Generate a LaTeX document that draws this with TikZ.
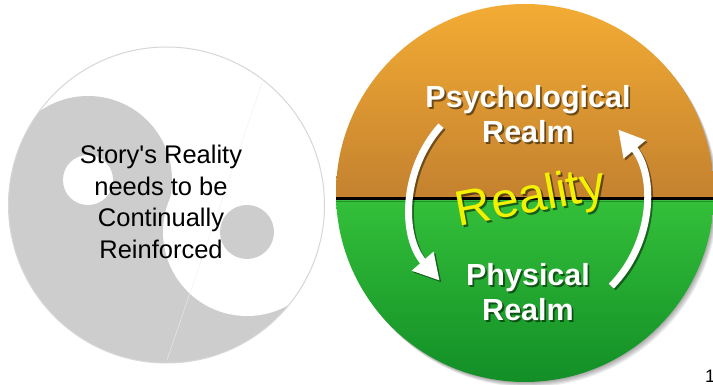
\documentclass[tikz,border=0pt]{standalone}
\usepackage{fontspec}
\newfontfamily\arialfont{Liberation Sans}
\usetikzlibrary{arrows.meta,calc}
\definecolor{yygray}{RGB}{205,205,205}
\definecolor{rimgray}{RGB}{215,215,215}
\definecolor{faintline}{RGB}{238,238,238}
\definecolor{orTop}{RGB}{243,172,52}
\definecolor{orBot}{RGB}{196,129,47}
\definecolor{grTop}{RGB}{52,192,58}
\definecolor{grBot}{RGB}{18,142,38}
\definecolor{realityYellow}{RGB}{242,242,0}
\begin{document}
\begin{tikzpicture}[x=1pt,y=1pt,
  storytext/.style={font=\arialfont\fontsize{25.5}{31.7}\selectfont, align=center, inner sep=0pt},
  realmtext/.style={text=white, font=\arialfont\bfseries\fontsize{30.5}{35}\selectfont, align=center, inner sep=0pt},
  realitytext/.style={text=realityYellow, font=\arialfont\fontsize{49.5}{52}\selectfont, rotate=10.5, inner sep=0pt},
  shadowtext/.style={text=black, text opacity=0.5},
  looparrow/.style={line width=7pt, -{Triangle[width=27pt,length=26pt]}},
  pagetext/.style={font=\arialfont\fontsize{18}{20}\selectfont, anchor=base west, inner sep=0pt}
]
\clip (0,0) rectangle (713,385);
\fill[white] (0,0) rectangle (713,385);

% ---------- yin-yang ----------
\coordinate (yc) at (166.5,180);
\begin{scope}
  \clip (yc) circle[radius=158];
  \fill[white] (yc) circle[radius=158];
  \fill[yygray] (-118.5,273.3) -- (451.5,86.7) -- (358.2,-198.3) -- (-211.8,-11.7) -- cycle;
  \fill[yygray] (88,205) circle[radius=84];
  \fill[white] (247,153) circle[radius=84];
  \fill[white] (88,205) circle[radius=25];
  \fill[yygray] (247,153) circle[radius=27];
  \draw[faintline, line width=0.4pt] (262,302) -- (167,25);
\end{scope}
\draw[rimgray, line width=1pt] (yc) circle[radius=158];
\node[storytext] (story) at (161,183) {Story's Reality\\needs to be\\Continually\\Reinforced};

% ---------- reality circle ----------
\coordinate (rc) at (525,192);
\foreach \i in {1,...,5}
  \fill[black, opacity=0.07] ($(rc)+(\i*0.8,-\i*1.0)$) circle[radius=189];
\begin{scope}
  \clip (rc) circle[radius=189];
  \shade[top color=orTop, bottom color=orBot] (330,186) rectangle (720,382);
  \shade[top color=grTop, bottom color=grBot] (330,2) rectangle (720,186);
  \fill[black, opacity=0.25] (330,182.5) rectangle (720,183.5);
  \draw[black, line width=3pt] (330,186) -- (720,186);
\end{scope}

% arrows
\coordinate (loopc) at (528,181);
\coordinate (l-start) at ($(loopc)+(138:117)$);
\coordinate (r-start) at ($(loopc)+(-44.6:117)$);
\begin{scope}[transparency group, opacity=0.45]
  \draw[looparrow, black] ([shift={(1.8,-1.8)}]l-start) arc[start angle=138, end angle=221, radius=117];
  \draw[looparrow, black] ([shift={(1.8,-1.8)}]r-start) arc[start angle=-44.6, end angle=39.6, radius=117];
\end{scope}
\draw[looparrow, white] (l-start) arc[start angle=138, end angle=221, radius=117];
\draw[looparrow, white] (r-start) arc[start angle=-44.6, end angle=39.6, radius=117];

% texts
\node[realmtext, shadowtext] (psy-sh) at (529.8,268.7) {Psychological\\Realm};
\node[realmtext] (psy) at (528,270.5) {Psychological\\Realm};
\node[realmtext, shadowtext] (phys-sh) at (529.8,90.7) {Physical\\Realm};
\node[realmtext] (phys) at (528,92.5) {Physical\\Realm};
\node[realitytext, shadowtext] (real-sh) at (533,183) {Reality};
\node[realitytext] (real) at (531,185) {Reality};

\node[pagetext] (pagenum) at (705,2) {1};
\end{tikzpicture}
\end{document}
